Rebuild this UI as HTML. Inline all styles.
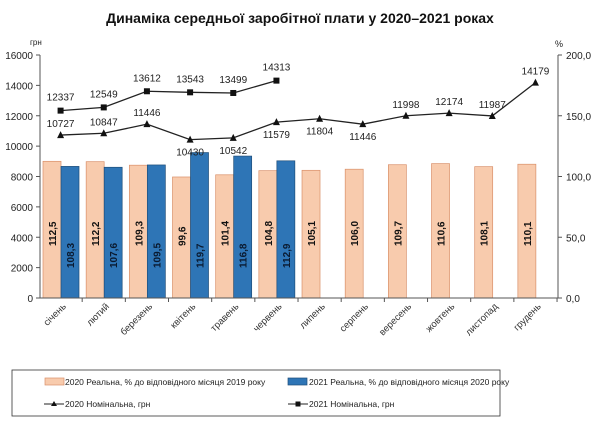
<!DOCTYPE html>
<html><head><meta charset="utf-8"><style>
body{margin:0;background:#fff;}
svg{display:block;font-family:"Liberation Sans",sans-serif;}
</style></head><body>
<svg id="c" width="600" height="430" viewBox="0 0 600 430" xmlns="http://www.w3.org/2000/svg">
<text x="300" y="23" text-anchor="middle" font-size="14" font-weight="bold" fill="#111">Динаміка середньої заробітної плати у 2020–2021 роках</text>
</svg>
<script>
var s=document.getElementById('c'),h='';
var L=40,R=558,T=55,B=298,cw=43.17;
function yp(v){return B-v*(B-T)/200;}
function yg(v){return B-v*(B-T)/16000;}
var o=[112.5,112.2,109.3,99.6,101.4,104.8,105.1,106.0,109.7,110.6,108.1,110.1];
var b=[108.3,107.6,109.5,119.7,116.8,112.9];
var n21=[12337,12549,13612,13543,13499,14313];
var n20=[10727,10847,11446,10430,10542,11579,11804,11446,11998,12174,11987,14179];
var m=['січень','лютий','березень','квітень','травень','червень','липень','серпень','вересень','жовтень','листопад','грудень'];
function f(v){return v.toFixed(1).replace('.',',');}
for(var i=0;i<12;i++){
 var x0=39+cw*i,c=x0+cw/2;
 h+='<rect x="'+(x0+4)+'" y="'+yp(o[i])+'" width="18" height="'+(B-yp(o[i]))+'" fill="#f8cbad" stroke="#d9906a" stroke-width="0.7"/>';
 h+='<text transform="translate('+(x0+17)+',246) rotate(-90)" font-size="10" font-weight="bold" fill="#111">'+f(o[i])+'</text>';
 if(i<6){h+='<rect x="'+(x0+22)+'" y="'+yp(b[i])+'" width="18" height="'+(B-yp(b[i]))+'" fill="#2e75b6" stroke="#1f4e79" stroke-width="0.7"/>';
 h+='<text transform="translate('+(x0+35)+',268) rotate(-90)" font-size="10" font-weight="bold" fill="#0a1a30">'+f(b[i])+'</text>';}
 h+='<line x1="'+(x0+cw)+'" y1="'+B+'" x2="'+(x0+cw)+'" y2="'+(B+4)+'" stroke="#555"/>';
 h+='<text transform="translate('+(c+6)+',307) rotate(-45)" text-anchor="end" font-size="9.5" fill="#333">'+m[i]+'</text>';
}
var p='';for(var i=0;i<6;i++)p+=(39+cw*i+cw/2)+','+yg(n21[i])+' ';
h+='<polyline points="'+p+'" fill="none" stroke="#222" stroke-width="1.3"/>';
p='';for(var i=0;i<12;i++)p+=(39+cw*i+cw/2)+','+yg(n20[i])+' ';
h+='<polyline points="'+p+'" fill="none" stroke="#222" stroke-width="1.3"/>';
var below=[0,0,0,1,1,1,1,1,0,0,0,0];
for(var i=0;i<12;i++){var c=39+cw*i+cw/2,y=yg(n20[i]);
 h+='<polygon points="'+(c-3.5)+','+(y+3)+' '+(c+3.5)+','+(y+3)+' '+c+','+(y-4)+'" fill="#111"/>';
 h+='<text x="'+c+'" y="'+(below[i]?y+16:y-8)+'" text-anchor="middle" font-size="10" fill="#222">'+n20[i]+'</text>';
 if(i<6){var y2=yg(n21[i]);h+='<rect x="'+(c-3)+'" y="'+(y2-3)+'" width="6" height="6" fill="#111"/>';
 h+='<text x="'+c+'" y="'+(y2-10)+'" text-anchor="middle" font-size="10" fill="#222">'+n21[i]+'</text>';}
}
h+='<line x1="'+L+'" y1="'+T+'" x2="'+L+'" y2="'+B+'" stroke="#555"/><line x1="'+L+'" y1="'+B+'" x2="'+R+'" y2="'+B+'" stroke="#555"/><line x1="'+R+'" y1="'+T+'" x2="'+R+'" y2="'+B+'" stroke="#555"/>';
for(var k=0;k<=8;k++){var y=yg(k*2000);h+='<line x1="'+(L-4)+'" y1="'+y+'" x2="'+L+'" y2="'+y+'" stroke="#555"/><text x="'+(L-7)+'" y="'+(y+4)+'" text-anchor="end" font-size="10" fill="#222">'+(k*2000)+'</text>';}
for(var k=0;k<=4;k++){var y=yp(k*50);h+='<line x1="'+R+'" y1="'+y+'" x2="'+(R+4)+'" y2="'+y+'" stroke="#555"/><text x="'+(R+8)+'" y="'+(y+4)+'" font-size="10" fill="#222">'+f(k*50)+'</text>';}
h+='<text x="30" y="45" font-size="8" fill="#222">грн</text><text x="555" y="47" font-size="9" fill="#222">%</text>';
h+='<rect x="12" y="370" width="488" height="46" fill="none" stroke="#333" stroke-width="0.8"/>';
h+='<rect x="45" y="378" width="19" height="7" fill="#f8cbad" stroke="#d9906a" stroke-width="0.7"/><text x="65" y="385" font-size="8.5" fill="#222">2020 Реальна, % до відповідного місяця 2019 року</text>';
h+='<rect x="288" y="378" width="19" height="7" fill="#2e75b6" stroke="#1f4e79" stroke-width="0.7"/><text x="309" y="385" font-size="8.5" fill="#222">2021 Реальна, % до відповідного місяця 2020 року</text>';
h+='<line x1="44" y1="404" x2="64" y2="404" stroke="#222"/><polygon points="51,406 57,406 54,401" fill="#111"/><text x="65" y="407" font-size="8.5" fill="#222">2020 Номінальна, грн</text>';
h+='<line x1="288" y1="404" x2="308" y2="404" stroke="#222"/><rect x="295.5" y="401.5" width="5" height="5" fill="#111"/><text x="309" y="407" font-size="8.5" fill="#222">2021 Номінальна, грн</text>';
s.insertAdjacentHTML('beforeend',h);
</script>
</body></html>
